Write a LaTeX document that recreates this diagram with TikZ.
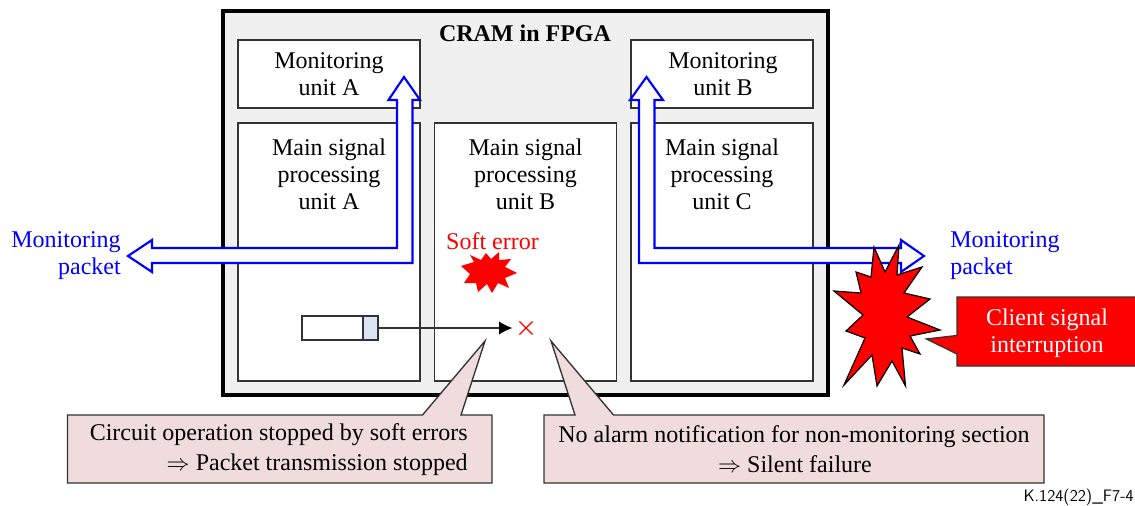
\documentclass[tikz,border=0pt]{standalone}
\usepackage{fontspec}
\setmainfont{Liberation Serif}
\usetikzlibrary{arrows.meta,shapes.misc}
\definecolor{framegray}{HTML}{F0F0F0}
\definecolor{notepink}{HTML}{F0DCDC}
\definecolor{fifoblue}{HTML}{DCE6F2}
\definecolor{boxline}{HTML}{333333}
\tikzset{
  unitbox/.style={draw=boxline, line width=1pt, fill=white, minimum width=182*0.75pt, inner sep=0pt},
  unittext/.style={font=\fontsize{18}{20.25}\selectfont, align=center, inner sep=0pt},
  bluetext/.style={unittext, text=blue},
  notebox/.style={draw=boxline, line width=1pt, fill=notepink, line join=miter},
  notetext/.style={font=\fontsize{18}{21.75}\selectfont, inner sep=0pt},
  packetarrow/.style={draw=blue, line width=1.6pt, fill=white, line join=miter, miter limit=10},
  burst/.style={fill=red, line join=miter}
}
\begin{document}
\begin{tikzpicture}[x=0.75pt, y=-0.75pt]
    \useasboundingbox (0,0) rectangle (1135,506);

    % FPGA frame
    \node[draw=black, line width=2.4pt, fill=framegray, minimum width=605*0.75pt, minimum height=384*0.75pt, inner sep=0pt] (fpga) at (525.5,203) {};
    \node[unittext, font=\fontsize{18}{20.25}\selectfont\bfseries] (fpgaTitle) at (525,33) {CRAM in FPGA};

    % Monitoring units
    \node[unitbox, minimum height=68*0.75pt] (monA) at (329,74) {};
    \node[unitbox, minimum height=68*0.75pt] (monB) at (722,74) {};
    \node[unittext] (monAText) at (329,74) {Monitoring\\unit A};
    \node[unittext] (monBText) at (723,74) {Monitoring\\unit B};

    % Main signal processing units
    \node[unitbox, minimum height=258*0.75pt] (mainA) at (329,252) {};
    \node[unitbox, minimum height=258*0.75pt] (mainB) at (525.5,252) {};
    \node[unitbox, minimum height=258*0.75pt] (mainC) at (722,252) {};
    \node[unittext] (mainAText) at (329,174) {Main signal\\processing\\unit A};
    \node[unittext] (mainBText) at (525.5,174) {Main signal\\processing\\unit B};
    \node[unittext] (mainCText) at (722,174) {Main signal\\processing\\unit C};

    % Packet arrows
    \draw[packetarrow] (404,77) -- (420,100) -- (412.5,100) -- (412.5,263) -- (152,263) -- (152,272) -- (128,256)
        -- (152,240) -- (152,248) -- (397,248) -- (397,100) -- (388.5,100) -- cycle;
    \draw[packetarrow] (646.5,77) -- (663,100) -- (654.5,100) -- (654.5,248) -- (901,248) -- (901,240) -- (924,256)
        -- (901,272) -- (901,263) -- (639,263) -- (639,100) -- (630,100) -- cycle;
    \node[bluetext, align=right, anchor=east] (packetL) at (121,256) {Monitoring\\packet};
    \node[bluetext, align=left, anchor=west] (packetR) at (950,256) {Monitoring\\packet};

    % Soft error
    \node[unittext, text=red] (softText) at (492.5,241) {Soft error};
    \fill[burst] (461,266) -- (474,262) -- (470,255) -- (481,260) -- (486,253) -- (491,259)
        -- (499,252) -- (499,260) -- (511,259) -- (505,267) -- (517,273) -- (505,278) -- (509,288)
        -- (498,283) -- (492,293) -- (487,284) -- (478,292) -- (476,283) -- (464,283) -- (470,274) -- cycle;

    % Stopped circuit
    \node[draw=boxline, line width=1pt, fill=white, minimum width=61*0.75pt, minimum height=24*0.75pt, inner sep=0pt] (fifo) at (332.5,328) {};
    \node[draw=boxline, line width=1pt, fill=fifoblue, minimum width=15*0.75pt, minimum height=24*0.75pt, inner sep=0pt] (fifoEnd) at (370.5,328) {};
    \node[draw=red, line width=0.9pt, cross out, minimum size=12*0.75pt, inner sep=0pt] (stopMark) at (526,328) {};
    \draw[boxline, line width=1pt, -{Latex[black, length=10pt, width=10pt]}, shorten >=7*0.75pt] (fifoEnd) -- (stopMark);

    % Notes
    \draw[notebox] (67.5,415) -- (422.5,415) -- (485,341) -- (461,415) -- (492,415) -- (492,483) -- (67.5,483) -- cycle;
    \draw[notebox] (544,415) -- (575,415) -- (551,341) -- (613.5,415) -- (1044,415) -- (1044,483) -- (544,483) -- cycle;
    \node[notetext, anchor=base east] (noteA1) at (468,440) {Circuit operation stopped by soft errors};
    \node[notetext, anchor=base east] (noteA2) at (468,470) {$\Rightarrow$ Packet transmission stopped};
    \node[notetext, anchor=base] (noteB1) at (794,442) {No alarm notification for non-monitoring section};
    \node[notetext, anchor=base] (noteB2) at (795,472) {$\Rightarrow$ Silent failure};

    % Client signal interruption
    \draw[burst, draw=black, line width=0.9pt] (874,247) -- (885,272) -- (899,245) -- (897,275) -- (922,267) -- (904,293)
        -- (930,299) -- (907,317) -- (940,330) -- (910,336) -- (920,354) -- (902,348) -- (905.5,386) -- (892,361)
        -- (877,386) -- (872,355) -- (844,385) -- (865,338) -- (846,331) -- (863,315) -- (834,291) -- (861,293)
        -- (856,272) -- (871,277) -- cycle;
    \draw[notebox, fill=red] (957,297) -- (1140,297) -- (1140,366) -- (957,366) -- (957,354) -- (926.5,339) -- (957,335.5) -- cycle;
    \node[unittext, text=white] (clientText) at (1047,333) {Client signal\\interruption};

    % Figure number
    \node[font=\fontsize{12.4}{15}\sffamily, inner sep=0pt, anchor=east] (figNo) at (1134,497) {K.124(22)\_F7-4};
\end{tikzpicture}
\end{document}
